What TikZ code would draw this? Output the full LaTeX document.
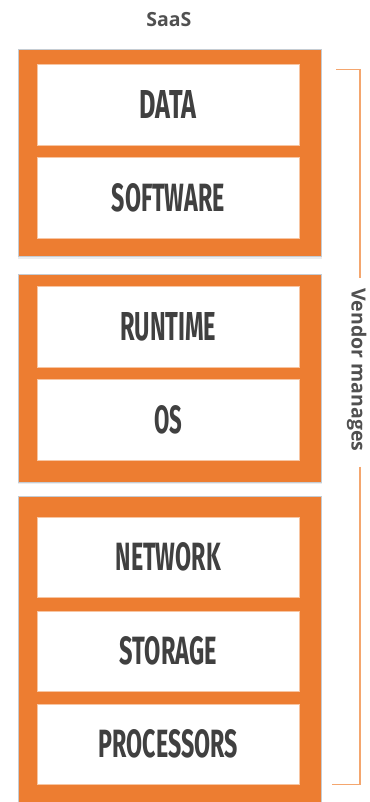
\documentclass[tikz,border=0pt]{standalone}
\usepackage{fontspec}
\setmainfont{Open Sans}
\newfontfamily\layerfont{Fira Sans}
\usetikzlibrary{shadows}
\definecolor{saasorange}{HTML}{ED7D31}
\definecolor{bracketorange}{HTML}{F4A66E}
\definecolor{labelgray}{HTML}{404040}
\definecolor{captiongray}{HTML}{505050}
\definecolor{rimgray}{HTML}{C5CCD3}
% condensed layer caption: width and cap height given in pt
\newcommand\layertext[2]{\resizebox{#1pt}{28pt}{\layerfont\bfseries #2}}
\begin{document}
\begin{tikzpicture}[x=1pt,y=-1pt,
  stack/.style={fill=saasorange, draw=rimgray, line width=0.8pt,
    drop shadow={shadow xshift=0pt, shadow yshift=-2pt, opacity=0.35, fill=rimgray},
    inner sep=0pt, minimum width=303.5pt},
  layer/.style={fill=white, draw=saasorange!45!white, line width=0.6pt,
    minimum width=262pt, minimum height=81pt, inner sep=0pt, text=labelgray},
  caption/.style={text=captiongray, font=\fontsize{19.5}{21}\selectfont\bfseries, inner sep=0pt},
  bracket/.style={draw=bracketorange, line width=1.1pt}]
\useasboundingbox (0,0) rectangle (369,802);
\clip (0,0) rectangle (369,802);

% title
\node[caption, anchor=base] (title) at (168.8,27) {SaaS};

% three tiers of the stack
\node[stack, minimum height=207.5pt] (tierA) at (169.75,152.75) {};
\node[stack, minimum height=207.8pt] (tierB) at (169.75,378.4) {};
\node[stack, minimum height=330pt] (tierC) at (169.75,661.7) {};

% layers
\node[layer] (data)  at (168.3,104.8) {\layertext{57}{DATA}};
\node[layer] (soft)  at (168.3,198.2) {\layertext{113}{SOFTWARE}};
\node[layer] (run)   at (168.3,326.7) {\layertext{96}{RUNTIME}};
\node[layer] (os)    at (168.3,420.0) {\layertext{28}{OS}};
\node[layer, minimum height=80pt] (net)  at (168.3,557.3) {\layertext{105}{NETWORK}};
\node[layer, minimum height=80pt] (stor) at (168.3,650.8) {\layertext{97}{STORAGE}};
\node[layer, minimum height=80pt] (proc) at (168.3,744.2) {\layertext{139}{PROCESSORS}};

% vendor bracket
\node[caption, rotate=-90, anchor=base] (vendor) at (351.5,370) {Vendor manages};
\coordinate (bTopEnd) at (336,69.3);
\coordinate (bTopCorner) at (360,69.3);
\coordinate (bGapTop) at (360,278.3);
\coordinate (bGapBot) at (360,466.7);
\coordinate (bBotCorner) at (360,784.3);
\coordinate (bBotEnd) at (332,784.3);
\draw[bracket] (bTopEnd) -- (bTopCorner) -- (bGapTop);
\draw[bracket] (bGapBot) -- (bBotCorner) -- (bBotEnd);
\end{tikzpicture}
\end{document}
